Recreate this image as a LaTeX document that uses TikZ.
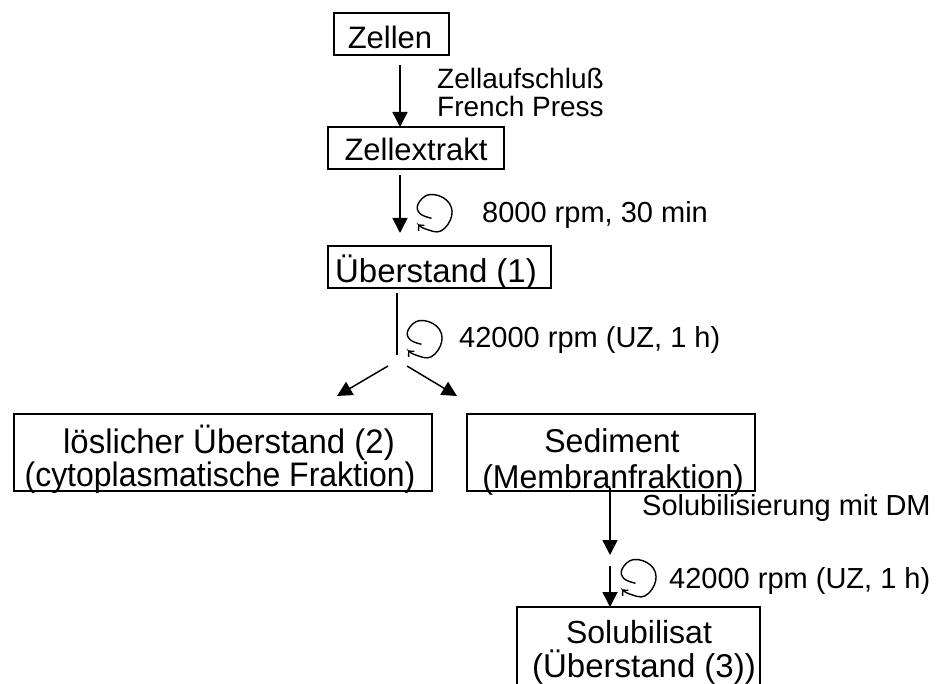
\documentclass[tikz,border=0pt]{standalone}
\usepackage{fontspec}
\setmainfont{Liberation Sans}
\newfontfamily\narrowa[FakeStretch=0.97]{Liberation Sans}
\newfontfamily\narrowb[FakeStretch=0.94]{Liberation Sans}
\newfontfamily\narrowc[FakeStretch=0.97]{Liberation Sans}
\usetikzlibrary{arrows.meta}
\begin{document}
\begin{tikzpicture}[x=1pt,y=-1pt,
  box/.style={draw, line width=1.4pt, inner sep=0pt, outer sep=0pt},
  ttl/.style={inner sep=0pt, anchor=base},
  lbl/.style={inner sep=0pt, anchor=base west, font=\fontsize{29}{34}\selectfont},
  conn/.style={line width=1.5pt, -{Triangle[length=15pt,width=15pt]}},
  plain/.style={line width=1.5pt},
  centri/.pic={\draw[line width=1.4pt, -{Straight Barb[length=4pt,width=8pt]}, scale=1.15]
     plot[smooth, tension=0.7] coordinates {(-1.3,6.3) (-11.3,2.3) (-13,-6) (-3,-14.3) (12,-9.3) (16.3,4) (7,17.3) (-6.3,15.7) (-13,11.7)};}]
\useasboundingbox (0,0) rectangle (942,684);
\fill[white] (0,0) rectangle (942,684);

% boxes
\node[box, minimum width=115pt, minimum height=42pt] (zellen) at (391.5,34) {};
\node[box, minimum width=176pt, minimum height=42pt] (extrakt) at (416,148) {};
\node[box, minimum width=223pt, minimum height=42pt] (ueb1) at (439.5,267) {};
\node[box, minimum width=418pt, minimum height=77pt] (loes) at (223,452.5) {};
\node[box, minimum width=288pt, minimum height=77pt] (sed) at (611,452.5) {};
\node[box, minimum width=243pt, minimum height=80pt] (sol) at (638.5,647) {};

% box texts
\node[ttl, font=\fontsize{31}{36}\selectfont] (tzellen) at (390,48.3) {Zellen};
\node[ttl, font=\fontsize{31}{36}\selectfont] (textrakt) at (416,161) {Zellextrakt};
\node[ttl, font=\fontsize{33}{36}\selectfont] (tueb1) at (436,283) {Überstand (1)};
\node[ttl, font=\narrowa\fontsize{34}{36}\selectfont] (tloesa) at (229,453) {löslicher Überstand (2)};
\node[ttl, font=\narrowb\fontsize{34}{36}\selectfont] (tloesb) at (220,486) {(cytoplasmatische Fraktion)};
\node[ttl, font=\narrowc\fontsize{33}{36}\selectfont] (tseda) at (612,452) {Sediment};
\node[ttl, font=\narrowc\fontsize{33}{36}\selectfont] (tsedb) at (613,488) {(Membranfraktion)};
\node[ttl, font=\fontsize{32}{36}\selectfont] (tsola) at (639,643) {Solubilisat};
\node[ttl, font=\fontsize{33}{36}\selectfont] (tsolb) at (644,677) {(Überstand (3))};

% labels
\node[lbl, font=\fontsize{28}{34}\selectfont] (la) at (437,89) {Zellaufschluß};
\node[lbl, font=\fontsize{28}{34}\selectfont] (lb) at (437,117) {French Press};
\node[lbl] (lc) at (482,223) {8000 rpm, 30 min};
\node[lbl] (ld) at (459,348) {42000 rpm (UZ, 1 h)};
\node[lbl] (le) at (642,515) {Solubilisierung mit DM};
\node[lbl] (lf) at (669,588) {42000 rpm (UZ, 1 h)};

% connector coordinates
\coordinate (c1) at (400,65);
\coordinate (c2s) at (400,175);
\coordinate (c2e) at (400,233);
\coordinate (c3s) at (397,293);
\coordinate (c3e) at (397,355);
\coordinate (dls) at (388,366);
\coordinate (dle) at (337,396);
\coordinate (drs) at (407,366);
\coordinate (dre) at (457,396);
\coordinate (c4s) at (610,488);
\coordinate (c4e) at (610,555);
\coordinate (c5s) at (610,566);

\draw[conn] (c1) -- (c1 |- extrakt.north);
\draw[conn] (c2s) -- (c2e);
\draw[plain] (c3s) -- (c3e);
\draw[conn] (dls) -- (dle);
\draw[conn] (drs) -- (dre);
\draw[conn] (c4s) -- (c4e);
\draw[conn] (c5s) -- (c5s |- sol.north);

% centrifuge symbols
\pic at (433,211) {centri};
\pic at (423,337) {centri};
\pic at (637,576) {centri};
\end{tikzpicture}
\end{document}
